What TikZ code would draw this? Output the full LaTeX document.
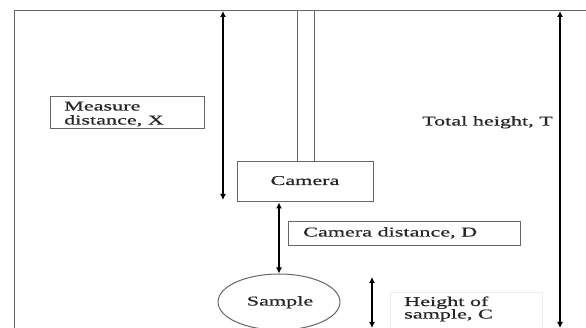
\documentclass[tikz,border=0pt]{standalone}
\usepackage{fontspec}
\setmainfont{Liberation Serif}
\newfontfamily\lblfont{Liberation Serif}[FakeBold=0.6, FakeStretch=1.64]
\usetikzlibrary{arrows.meta,shapes.geometric}
\tikzset{
  frame/.style={draw=black!60, line width=1pt},
  txt/.style={font=\lblfont\fontsize{13.5}{14}\selectfont, text=black!85, inner sep=0pt},
  dim/.style={draw=black, line width=1.5pt, {Latex[length=6pt,width=6pt]}-{Latex[length=6pt,width=6pt]}},
}
\begin{document}
\begin{tikzpicture}[x=1pt,y=-1pt]
\useasboundingbox[fill=white] (0,0) rectangle (586,328);
% frame
\draw[frame] (586,11) -- (14,11) -- (14,328);
% rod
\draw[frame] (297,11) rectangle (314,162);
% camera
\node[frame, rectangle, minimum width=136pt, minimum height=40pt] (cam) at (305,182) {};
\node[txt, anchor=base] (camt) at (305,185) {Camera};
% sample
\node[frame, ellipse, minimum width=122pt, minimum height=56pt, inner sep=0pt] (smp) at (279,302) {};
\node[txt, anchor=base] (smpt) at (280,305.5) {Sample};
% measure box
\node[frame, rectangle, minimum width=154pt, minimum height=32pt] (mbox) at (127,113) {};
\node[txt, anchor=base west] (mtxta) at (64,110.5) {Measure};
\node[txt, anchor=base west] (mtxtb) at (64,124.5) {distance, X};
% camera distance box
\node[frame, rectangle, minimum width=232pt, minimum height=24pt] (dbox) at (404,234) {};
\node[txt, anchor=base west] (dtxt) at (303,236.5) {Camera distance, D};
% height box (faint)
\node[draw=black!7, line width=1pt, rectangle, minimum width=152pt, minimum height=50pt, anchor=north west] (hbox) at (390,292) {};
\node[txt, anchor=base west] (htxta) at (404,306) {Height of};
\node[txt, anchor=base west] (htxtb) at (404,318.5) {sample, C};
% total label
\node[txt, anchor=base east] (tlbl) at (553,125.5) {Total height, T};
% dimension coordinates
\coordinate (mt) at (223,11);
\coordinate (mb) at (223,200);
\coordinate (tt) at (560,11);
\coordinate (tb) at (560,328);
\coordinate (ht) at (372,277);
\coordinate (hb) at (372,328);
\coordinate (dt) at (cam.south -| smp.north);
% arrows
\draw[dim] (mt) -- (mb);
\draw[dim] (tt) -- (tb);
\draw[dim] (ht) -- (hb);
\draw[dim] (dt) -- (smp.north);
\end{tikzpicture}
\end{document}
